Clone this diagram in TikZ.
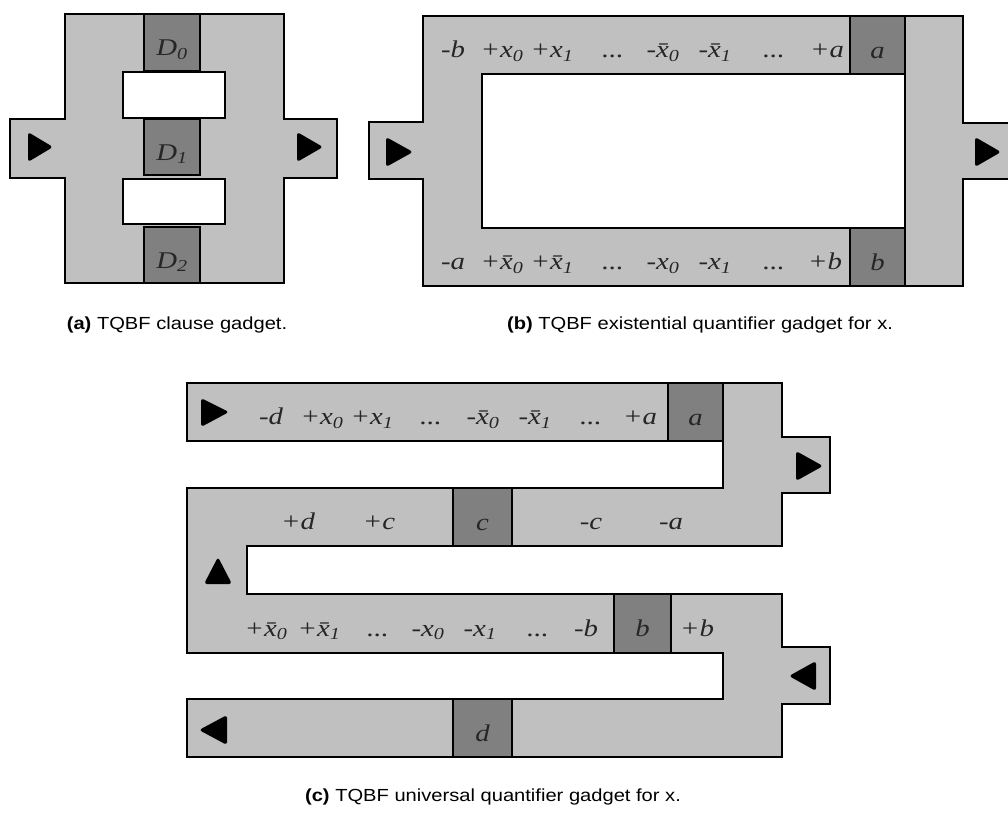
\documentclass[tikz,border=0pt]{standalone}
\usepackage{fontspec}
\setmainfont{Liberation Sans}[FakeStretch=1.15]
\newfontfamily\gadgetfont{Liberation Serif}[FakeStretch=1.2]
\usepackage{xcolor}
\definecolor{trackgrey}{HTML}{C0C0C0}
\definecolor{gategrey}{HTML}{808080}
\usepackage{tikz}

\begin{document}
\begin{tikzpicture}[x=1pt, y=-1pt,
    track/.style={fill=trackgrey, draw=black, line width=1.8pt},
    hole/.style={fill=white, draw=black, line width=1.8pt},
    gate/.style={fill=gategrey, draw=black, line width=1.8pt, inner sep=0pt,
      text height=28pt, text depth=2pt, text=black!85,
      font={\gadgetfont\itshape\fontsize{24pt}{26pt}\selectfont}},
    lbl/.style={anchor=base, inner sep=0pt, text=black!85,
      font={\gadgetfont\itshape\fontsize{24pt}{26pt}\selectfont}},
    tip/.style={fill=black, rounded corners=3pt},
    capt/.style={anchor=base, font=\fontsize{17.5pt}{20pt}\selectfont}
]
  \useasboundingbox (0,0) rectangle (1008,819);

  % (a) Klausel
  \draw[track] (65,14) -- (284,14) -- (284,119) -- (337,119) -- (337,178) -- (284,178)
    -- (284,283) -- (65,283) -- (65,178) -- (10,178) -- (10,119) -- (65,119) -- cycle;
  \draw[hole] (123,72) rectangle (225,118);
  \draw[hole] (123,179) rectangle (225,224);
  \node[gate, minimum width=56, minimum height=57] (d0) at (172,42.5) {D\textsubscript{0}};
  \node[gate, minimum width=56, minimum height=56] (d1) at (172,147) {D\textsubscript{1}};
  \node[gate, minimum width=56, minimum height=56] (d2) at (172,255) {D\textsubscript{2}};
  \fill[tip] (28,132) -- (53,147) -- (28,162) -- cycle;
  \fill[tip] (297,132) -- (323,147) -- (297,162) -- cycle;
  \node[capt] (capa) at (177,329) {\textbf{(a)} TQBF clause gadget.};

  % (b) Existenzquantor
  \draw[track] (423,16) -- (963,16) -- (963,123) -- (1015,123) -- (1015,179) -- (963,179)
    -- (963,286) -- (423,286) -- (423,179) -- (369,179) -- (369,122) -- (423,122) -- cycle;
  \draw[hole] (482,74) rectangle (905,228);
  \node[gate, minimum width=55, minimum height=58] (ga) at (877.5,45) {a};
  \node[gate, minimum width=55, minimum height=58] (gb) at (877.5,257) {b};
  \fill[tip] (386,137) -- (413,152) -- (386,167) -- cycle;
  \fill[tip] (975,137) -- (1001,152) -- (975,167) -- cycle;
  % obere Reihe
  \node[lbl] (bt1) at (453,57.5) {-b};
  \node[lbl] (bt2) at (502,57.5) {+x\textsubscript{0}};
  \node[lbl] (bt3) at (552,57.5) {+x\textsubscript{1}};
  \node[lbl] (bt4) at (613,57.5) {...};
  \node[lbl] (bt5) at (663,57.5) {-\=x\textsubscript{0}};
  \node[lbl] (bt6) at (715,57.5) {-\=x\textsubscript{1}};
  \node[lbl] (bt7) at (774,57.5) {...};
  \node[lbl] (bt8) at (827,57.5) {+a};
  % untere Reihe
  \node[lbl] (bb1) at (453,269.5) {-a};
  \node[lbl] (bb2) at (502,269.5) {+\=x\textsubscript{0}};
  \node[lbl] (bb3) at (552,269.5) {+\=x\textsubscript{1}};
  \node[lbl] (bb4) at (613,269.5) {...};
  \node[lbl] (bb5) at (663,269.5) {-x\textsubscript{0}};
  \node[lbl] (bb6) at (715,269.5) {-x\textsubscript{1}};
  \node[lbl] (bb7) at (774,269.5) {...};
  \node[lbl] (bb8) at (825,269.5) {+b};
  \node[capt] (capb) at (700,329) {\textbf{(b)} TQBF existential quantifier gadget for x.};

  % (c) Allquantor
  \draw[track] (187,383) -- (782,383) -- (782,437) -- (830,437) -- (830,493) -- (782,493)
    -- (782,546) -- (247,546) -- (247,594) -- (782,594) -- (782,647) -- (830,647)
    -- (830,704) -- (782,704) -- (782,757) -- (187,757) -- (187,699) -- (723,699)
    -- (723,653) -- (187,653) -- (187,488) -- (723,488) -- (723,441) -- (187,441) -- cycle;
  \node[gate, minimum width=55, minimum height=58] (ua) at (695.5,412) {a};
  \node[gate, minimum width=59, minimum height=58] (uc) at (482.5,517) {c};
  \node[gate, minimum width=57, minimum height=59] (ub) at (642.5,623.5) {b};
  \node[gate, minimum width=59, minimum height=58] (ud) at (482.5,728) {d};
  \fill[tip] (201,398) -- (229,412) -- (201,427) -- cycle;
  \fill[tip] (796,451) -- (823,466) -- (796,481) -- cycle;
  \fill[tip] (204,584) -- (218,557) -- (232,584) -- cycle;
  \fill[tip] (816,661) -- (789,676) -- (816,691) -- cycle;
  \fill[tip] (227,715) -- (199,730) -- (227,745) -- cycle;
  % erste Bahn
  \node[lbl] (ut1) at (271,424.5) {-d};
  \node[lbl] (ut2) at (322,424.5) {+x\textsubscript{0}};
  \node[lbl] (ut3) at (372,424.5) {+x\textsubscript{1}};
  \node[lbl] (ut4) at (431,424.5) {...};
  \node[lbl] (ut5) at (483,424.5) {-\=x\textsubscript{0}};
  \node[lbl] (ut6) at (535,424.5) {-\=x\textsubscript{1}};
  \node[lbl] (ut7) at (591,424.5) {...};
  \node[lbl] (ut8) at (640,424.5) {+a};
  % zweite Bahn
  \node[lbl] (um1) at (298,529.5) {+d};
  \node[lbl] (um2) at (379,529.5) {+c};
  \node[lbl] (um3) at (591,529.5) {-c};
  \node[lbl] (um4) at (671,529.5) {-a};
  % dritte Bahn
  \node[lbl] (ul1) at (266,636) {+\=x\textsubscript{0}};
  \node[lbl] (ul2) at (319,636) {+\=x\textsubscript{1}};
  \node[lbl] (ul3) at (378,636) {...};
  \node[lbl] (ul4) at (428,636) {-x\textsubscript{0}};
  \node[lbl] (ul5) at (480,636) {-x\textsubscript{1}};
  \node[lbl] (ul6) at (538,636) {...};
  \node[lbl] (ul7) at (586,636) {-b};
  \node[lbl] (ul8) at (697,636) {+b};
  \node[capt] (capc) at (493,801) {\textbf{(c)} TQBF universal quantifier gadget for x.};

\end{tikzpicture}
\end{document}
